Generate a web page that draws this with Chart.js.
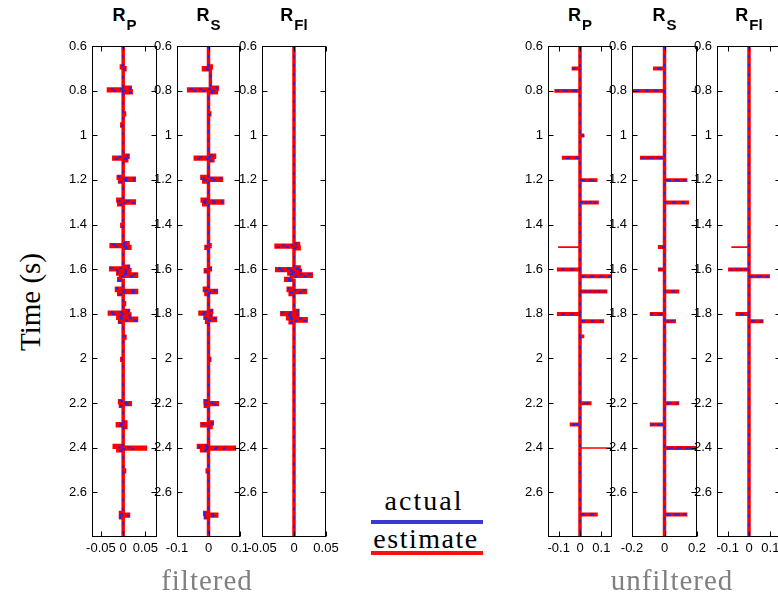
<!DOCTYPE html>
<html><head><meta charset="utf-8">
<script src="https://cdn.jsdelivr.net/npm/chart.js@4.4.1/dist/chart.umd.min.js"></script>
<style>
body{margin:0;width:778px;height:593px;overflow:hidden;background:#fff;position:relative}
canvas{position:absolute}
.ttl{position:absolute;top:5px;width:80px;text-align:center;font:bold 18px "Liberation Sans",Arial,sans-serif;color:#000;line-height:20px;white-space:nowrap}
.ttl span{font-size:15px;position:relative;top:9px;margin-left:1px}
.serif{position:absolute;font-family:"Liberation Serif","Times New Roman",serif;white-space:nowrap;line-height:1}
.lline{position:absolute;left:371px;width:112px;height:4px}
</style></head><body>
<script>
// ---------- data ----------
const timeMin = 0.6, timeMax = 2.8;
const yTicks = [0.6, 0.8, 1, 1.2, 1.4, 1.6, 1.8, 2, 2.2, 2.4, 2.6];
const panelTitles = ["P", "S", "Fl", "P", "S", "Fl"];

// filtered R_P  (knots: value held from time t)
const fRP_t   = [0.6, 0.69, 0.698, 0.706, 0.785, 0.793, 0.801, 0.809, 0.9, 0.908, 0.95, 0.958, 1.09, 1.098, 1.106, 1.114, 1.185, 1.193, 1.201, 1.209, 1.287, 1.295, 1.303, 1.311, 1.4, 1.408, 1.482, 1.49, 1.498, 1.506, 1.587, 1.595, 1.603, 1.612, 1.622, 1.632, 1.642, 1.65, 1.685, 1.695, 1.705, 1.713, 1.75, 1.758, 1.785, 1.793, 1.801, 1.81, 1.82, 1.83, 1.838, 1.9, 1.908, 2.0, 2.008, 2.19, 2.198, 2.206, 2.214, 2.285, 2.293, 2.301, 2.309, 2.39, 2.398, 2.406, 2.414, 2.5, 2.508, 2.69, 2.698, 2.706, 2.714, 2.8];
const fRP_act = [0, -0.003, 0.004, 0, 0.015, -0.03, 0.017, 0, 0.003, 0, -0.003, 0, 0.01, -0.02, 0.008, 0, -0.01, 0.024, -0.008, 0, -0.011, 0.025, -0.009, 0, -0.003, 0, 0.01, -0.026, 0.014, 0, 0.012, -0.028, 0.014, -0.012, 0.03, -0.006, -0.01, 0, -0.014, 0.03, -0.01, 0, 0.003, 0, 0.012, -0.031, 0.015, -0.012, 0.03, -0.008, 0, 0.004, 0, -0.003, 0, -0.007, 0.016, -0.006, 0, 0.006, -0.013, 0.005, 0, -0.012, 0.025, -0.01, 0, 0.003, 0, -0.006, 0.012, -0.006, 0, 0];
const fRP_est = [0, -0.004, 0.004, 0, 0.016, -0.033, 0.018, 0, 0.003, 0, -0.003, 0, 0.011, -0.021, 0.008, 0, -0.011, 0.025, -0.008, 0, -0.012, 0.025, -0.01, 0, -0.003, 0, 0.011, -0.027, 0.015, 0, 0.012, -0.028, 0.015, -0.012, 0.03, -0.006, -0.01, 0, -0.015, 0.03, -0.01, 0, 0.003, 0, 0.012, -0.031, 0.015, -0.012, 0.03, -0.008, 0, 0.004, 0, -0.003, 0, -0.008, 0.016, -0.006, 0, 0.006, -0.013, 0.006, 0, -0.02, 0.05, -0.012, 0, 0.003, 0, -0.006, 0.012, -0.006, 0, 0];

// filtered R_S
const fRS_t   = [0.6, 0.69, 0.698, 0.706, 0.785, 0.793, 0.801, 0.809, 0.9, 0.908, 1.09, 1.098, 1.106, 1.114, 1.185, 1.193, 1.201, 1.209, 1.287, 1.295, 1.303, 1.311, 1.49, 1.498, 1.506, 1.595, 1.603, 1.611, 1.685, 1.695, 1.705, 1.713, 1.785, 1.793, 1.801, 1.81, 1.82, 1.83, 1.838, 2.0, 2.008, 2.19, 2.198, 2.206, 2.214, 2.285, 2.293, 2.301, 2.309, 2.39, 2.398, 2.406, 2.414, 2.5, 2.508, 2.69, 2.698, 2.706, 2.714, 2.8];
const fRS_act = [0, 0.008, -0.015, 0.006, 0.027, -0.06, 0.024, 0, 0.004, 0, 0.018, -0.04, 0.014, 0, -0.02, 0.04, -0.015, 0, -0.02, 0.043, -0.015, 0, 0.005, -0.008, 0, 0.006, -0.01, 0, -0.012, 0.023, -0.008, 0, 0.01, -0.026, 0.008, -0.01, 0.022, -0.006, 0, 0.004, 0, -0.01, 0.027, -0.01, 0, 0.012, -0.02, 0.008, 0, -0.03, 0.05, -0.02, 0, -0.004, 0, -0.012, 0.025, -0.01, 0, 0];
const fRS_est = [0, 0.009, -0.016, 0.006, 0.028, -0.063, 0.025, 0, 0.004, 0, 0.019, -0.042, 0.014, 0, -0.021, 0.041, -0.015, 0, -0.02, 0.045, -0.015, 0, 0.005, -0.008, 0, 0.006, -0.01, 0, -0.013, 0.025, -0.008, 0, 0.01, -0.027, 0.008, -0.011, 0.022, -0.006, 0, 0.004, 0, -0.011, 0.028, -0.01, 0, 0.012, -0.021, 0.008, 0, -0.032, 0.082, -0.022, 0, -0.004, 0, -0.012, 0.026, -0.01, 0, 0];

// filtered R_Fl
const fRF_t   = [0.6, 1.485, 1.493, 1.501, 1.509, 1.59, 1.598, 1.606, 1.614, 1.622, 1.632, 1.642, 1.65, 1.685, 1.695, 1.705, 1.713, 1.785, 1.795, 1.803, 1.812, 1.822, 1.832, 1.84, 2.8];
const fRF_act = [0, 0.006, -0.026, 0.008, 0, 0.008, -0.026, 0.01, -0.008, 0.026, -0.004, -0.013, 0, -0.009, 0.018, -0.006, 0, 0.006, -0.019, 0.006, -0.01, 0.019, -0.006, 0, 0];
const fRF_est = [0, 0.007, -0.028, 0.008, 0, 0.008, -0.027, 0.01, -0.008, 0.027, -0.004, -0.013, 0, -0.009, 0.018, -0.006, 0, 0.006, -0.019, 0.006, -0.01, 0.019, -0.006, 0, 0];

// unfiltered R_P spikes
const uRP_t   = [0.7, 0.8, 1.0, 1.1, 1.2, 1.3, 1.6, 1.631, 1.699, 1.8, 1.832, 1.9, 2.2, 2.295, 2.698];
const uRP_act = [-0.03, -0.11, 0.018, -0.077, 0.074, 0.08, -0.1, 0.14, 0.12, -0.1, 0.1, 0.015, 0.046, -0.04, 0.075];
const uRP_est = [-0.031, -0.112, 0.012, -0.077, 0.074, 0.08, -0.1, 0.145, 0.12, -0.1, 0.105, 0.012, 0.046, -0.04, 0.075];
const uRP_xt  = [1.5, 2.4];            // estimate-only spikes
const uRP_xv  = [-0.1, 0.15];

// unfiltered R_S spikes
const uRS_t   = [0.7, 0.8, 1.1, 1.2, 1.3, 1.5, 1.6, 1.699, 1.8, 1.832, 2.2, 2.295, 2.4, 2.698];
const uRS_act = [-0.06, -0.19, -0.14, 0.13, 0.14, -0.03, -0.03, 0.08, -0.08, 0.06, 0.08, -0.08, 0.2, 0.13];
const uRS_est = [-0.06, -0.19, -0.14, 0.13, 0.14, -0.03, -0.03, 0.08, -0.08, 0.06, 0.08, -0.08, 0.2, 0.13];

// unfiltered R_Fl spikes
const uRF_t   = [1.6, 1.631, 1.8, 1.832];
const uRF_act = [-0.09, 0.09, -0.055, 0.06];
const uRF_est = [-0.09, 0.09, -0.055, 0.06];
const uRF_xt  = [1.5];
const uRF_xv  = [-0.08];

// x-axis ticks per panel
const xTicksP1 = [-0.05, 0, 0.05];
const xTicksP2 = [-0.1, 0, 0.1];
const xTicksP3 = [-0.05, 0, 0.05];
const xTicksP4 = [-0.1, 0, 0.1];
const xTicksP5 = [-0.2, 0, 0.2];
const xTicksP6 = [-0.1, 0, 0.1];

// ---------- build ----------
const BLUE = '#2424e6', RED = '#ff0000';
function knots(ts, vs){ return ts.map((t,i)=>({x:vs[i], y:t})); }
function spikes(ts, vs){
  const pts=[{x:0,y:timeMin}];
  ts.forEach((t,i)=>{ pts.push({x:vs[i],y:t}); pts.push({x:0,y:t+0.002}); });
  pts.push({x:0,y:timeMax});
  return pts;
}
function ds(points, kind){
  if(kind==='act') return {data:points, showLine:true, stepped:'after', borderColor:BLUE, borderWidth:1.8, borderDash:[3,6], pointRadius:0, order:1};
  if(kind==='est') return {data:points, showLine:true, stepped:'after', borderColor:RED, borderWidth:3.5, pointRadius:0, order:2};
  return {data:points, showLine:true, stepped:'after', borderColor:RED, borderWidth:1.2, pointRadius:0, order:3};
}
function fmt(v){ return String(+(+v).toFixed(3)); }

const boxPlugin={id:'box',afterDraw(ch){
  const {ctx,chartArea:a,scales:{x,y}}=ch;
  ctx.save(); ctx.strokeStyle='#000'; ctx.lineWidth=1;
  const L=Math.round(a.left)+0.5, R=Math.round(a.right)-0.5, T=Math.round(a.top)+0.5, B=Math.round(a.bottom)-0.5;
  ctx.strokeRect(L,T,R-L,B-T);
  ctx.beginPath();
  y.ticks.forEach(t=>{const p=Math.round(y.getPixelForValue(t.value))+0.5; ctx.moveTo(L,p);ctx.lineTo(L+5,p);ctx.moveTo(R,p);ctx.lineTo(R-5,p);});
  x.ticks.forEach(t=>{const p=Math.round(x.getPixelForValue(t.value))+0.5; ctx.moveTo(p,B);ctx.lineTo(p,B-5);ctx.moveTo(p,T);ctx.lineTo(p,T+5);});
  ctx.stroke(); ctx.restore();
}};

const BOX_TOP=46, BOX_H=491;
function makePanel(p){
  const c=document.createElement('canvas');
  const W=45+p.w+25, H=10+BOX_H+30;
  c.width=W; c.height=H;
  c.style.left=(p.left-45)+'px'; c.style.top=(BOX_TOP-10)+'px';
  c.style.width=W+'px'; c.style.height=H+'px';
  document.body.appendChild(c);
  const tf={family:'"Liberation Sans", Arial, sans-serif', size:13};
  new Chart(c,{type:'scatter',data:{datasets:p.datasets},options:{
    responsive:false, animation:false, devicePixelRatio:1,
    layout:{padding:{left:0,top:10,right:25,bottom:0}},
    plugins:{legend:{display:false},tooltip:{enabled:false}},
    elements:{point:{radius:0}},
    scales:{
      x:{type:'linear',position:'bottom',min:p.xmin,max:p.xmax,
        grid:{display:false,drawTicks:false},border:{display:false},
        afterBuildTicks:s=>{s.ticks=p.xticks.map(v=>({value:v}));},
        ticks:{padding:4,autoSkip:false,maxRotation:0,minRotation:0,font:tf,color:'#000',callback:v=>fmt(v)},
        afterFit:s=>{s.height=30;s.paddingLeft=0;s.paddingRight=0;}},
      y:{type:'linear',position:'left',reverse:true,min:timeMin,max:timeMax,
        grid:{display:false,drawTicks:false},border:{display:false},
        afterBuildTicks:s=>{s.ticks=yTicks.map(v=>({value:v}));},
        ticks:{padding:5,autoSkip:false,font:tf,color:'#000',callback:v=>fmt(v)},
        afterFit:s=>{s.width=45;s.paddingTop=0;s.paddingBottom=0;}}
    }
  },plugins:[boxPlugin]});
}

const panels=[
  {left:92, w:65, xmin:-0.07, xmax:0.076, xticks:xTicksP1, datasets:[ds(knots(fRP_t,fRP_act),'act'), ds(knots(fRP_t,fRP_est),'est')]},
  {left:177, w:63, xmin:-0.1, xmax:0.1, xticks:xTicksP2, datasets:[ds(knots(fRS_t,fRS_act),'act'), ds(knots(fRS_t,fRS_est),'est')]},
  {left:262, w:64, xmin:-0.05, xmax:0.05, xticks:xTicksP3, datasets:[ds(knots(fRF_t,fRF_act),'act'), ds(knots(fRF_t,fRF_est),'est')]},
  {left:548, w:64, xmin:-0.15, xmax:0.15, xticks:xTicksP4, datasets:[ds(spikes(uRP_t,uRP_act),'act'), ds(spikes(uRP_t,uRP_est),'est'), ds(spikes(uRP_xt,uRP_xv),'x')]},
  {left:632, w:65, xmin:-0.2, xmax:0.2, xticks:xTicksP5, datasets:[ds(spikes(uRS_t,uRS_act),'act'), ds(spikes(uRS_t,uRS_est),'est')]},
  {left:717, w:64, xmin:-0.15, xmax:0.15, xticks:xTicksP6, datasets:[ds(spikes(uRF_t,uRF_act),'act'), ds(spikes(uRF_t,uRF_est),'est'), ds(spikes(uRF_xt,uRF_xv),'x')]}
];
panels.forEach((p,i)=>{
  makePanel(p);
  const d=document.createElement('div'); d.className='ttl';
  d.style.left=(p.left+p.w/2-40)+'px';
  d.innerHTML='R<span>'+panelTitles[i]+'</span>';
  document.body.appendChild(d);
});
</script>
<div class="serif" style="left:30px;top:302px;font-size:29px;transform:translate(-50%,-50%) rotate(-90deg);color:#000">Time (s)</div>
<div class="serif" style="left:207px;top:566px;font-size:29px;letter-spacing:1px;color:#808080;transform:translateX(-50%)">filtered</div>
<div class="serif" style="left:672px;top:566px;font-size:29px;letter-spacing:1px;color:#808080;transform:translateX(-50%)">unfiltered</div>
<div class="serif" style="left:424px;top:487px;font-size:28px;letter-spacing:2px;color:#000;transform:translateX(-50%)">actual</div>
<div class="lline" style="top:520px;background:#3a3ad2"></div>
<div class="serif" style="left:426px;top:525px;font-size:28px;letter-spacing:1.5px;color:#000;transform:translateX(-50%)">estimate</div>
<div class="lline" style="top:551px;background:#ff1010"></div>
</body></html>
